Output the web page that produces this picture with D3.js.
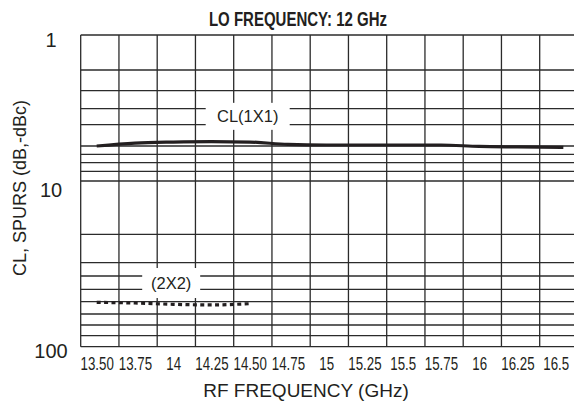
<!DOCTYPE html>
<html>
<head>
<meta charset="utf-8">
<script src="https://cdn.jsdelivr.net/npm/d3@7"></script>
<style>
body { margin:0; background:#fff; }
text { font-family:"Liberation Sans",Arial,Helvetica,sans-serif; fill:#231f20; }
</style>
</head>
<body>
<svg id="chart"></svg>
<script>

// x categories (GHz) and their printed labels
var freqs = [13.5,13.75,14,14.25,14.5,14.75,15,15.25,15.5,15.75,16,16.25,16.5];
var freqLabels = ["13.50","13.75","14","14.25","14.50","14.75","15","15.25","15.5","15.75","16","16.25","16.5"];

// CL(1X1) conversion loss, dB
var clFreq = [13.5,13.75,14,14.25,14.5,14.75,15,15.25,15.5,15.75,16,16.25,16.55];
var clVals = [6.0,5.85,5.8,5.78,5.8,5.92,5.95,5.95,5.95,5.95,6.05,6.1,6.15];

// (2X2) spur, dBc
var spurFreq = [13.5,13.75,14,14.25,14.5];
var spurVals = [60.5,61,62,62.5,61.5];

// y grid values and labelled ticks
var yGrid = [1,2,3,4,5,6,7,8,9,10,20,30,40,50,60,70,80,90,100];
var yLabels = [1,10,100];

var screen = {width:574, height:405};

var svg = d3.select("#chart")
    .attr("width", screen.width)
    .attr("height", screen.height);

var xScale = d3.scaleLinear()
    .domain([13.5,16.5])
    .range([96.7,555.7]);

// grid lines sit a little left of the printed labels
var gridShift = 16;

// the printed grid is not evenly logarithmic, so calibrate it piecewise
var yScale = d3.scaleLog()
    .domain(yGrid)
    .range([35,70,90.7,108.7,124.7,146,154.3,162.7,171.3,181,234.3,262.7,276,289.3,301.7,314,325,335.7,346.7]);

var left = xScale(13.5)-gridShift;
var right = xScale(16.75)-gridShift;

// squeeze text horizontally to imitate a condensed face
var condense = function(sel,k)
{
    sel.each(function(){
        var w = this.getComputedTextLength();
        d3.select(this)
            .attr("textLength",w*k)
            .attr("lengthAdjust","spacingAndGlyphs");
    });
}

var grid = svg.append("g");

grid.selectAll(".hline")
    .data(yGrid)
    .enter()
    .append("line")
    .attr("x1",left)
    .attr("x2",right)
    .attr("y1",function(d){return yScale(d)})
    .attr("y2",function(d){return yScale(d)})
    .style("stroke","#2b2b2b")
    .style("stroke-width",1.3);

grid.selectAll(".vline")
    .data(freqs.concat([16.75]))
    .enter()
    .append("line")
    .attr("x1",function(d){return xScale(d)-gridShift})
    .attr("x2",function(d){return xScale(d)-gridShift})
    .attr("y1",yScale(1))
    .attr("y2",yScale(100))
    .style("stroke","#2b2b2b")
    .style("stroke-width",1.3);

// CL(1X1) and (2X2) curves
var line = d3.line()
    .x(function(d){return xScale(d[0])})
    .y(function(d){return yScale(d[1])})
    .curve(d3.curveMonotoneX);

svg.append("path")
    .datum(d3.zip(clFreq,clVals))
    .attr("d",line)
    .style("fill","none")
    .style("stroke","#231f20")
    .style("stroke-width",3.2);

svg.append("path")
    .datum(d3.zip(spurFreq,spurVals))
    .attr("d",line)
    .style("fill","none")
    .style("stroke","#231f20")
    .style("stroke-width",3.2)
    .style("stroke-dasharray","4,3.4");

// curve labels in white boxes over the grid
var addTag = function(txt,cx,cy,w,h)
{
    svg.append("rect")
        .attr("x",cx-w/2)
        .attr("y",cy-h/2)
        .attr("width",w)
        .attr("height",h)
        .style("fill","#fff");
    svg.append("text")
        .text(txt)
        .attr("x",cx)
        .attr("y",cy)
        .attr("dy","0.35em")
        .attr("text-anchor","middle")
        .style("font-size","16.5px");
}
addTag("CL(1X1)",xScale(14.5)-2,yScale(4.45),84,27);
addTag("(2X2)",xScale(14)-2,yScale(45),58,30);

// axes
var xAxis = d3.axisBottom(xScale)
    .tickValues(freqs)
    .tickFormat(function(d,i){return freqLabels[i]})
    .tickSize(0)
    .tickPadding(11);

var gx = svg.append("g")
    .attr("transform","translate(0,"+yScale(100)+")")
    .call(xAxis);
gx.select(".domain").remove();
gx.selectAll("text")
    .attr("font-family",null)
    .attr("fill",null)
    .style("font-size","17.5px")
    .call(condense,0.76);

var yAxis = d3.axisLeft(yScale)
    .tickValues(yLabels)
    .tickFormat(d3.format("d"))
    .tickSize(0);

var gy = svg.append("g")
    .attr("transform","translate("+left+",0)")
    .call(yAxis);
gy.select(".domain").remove();
gy.selectAll("text")
    .attr("x",51-left)
    .attr("dy","0.55em")
    .attr("text-anchor","middle")
    .attr("font-family",null)
    .style("font-size","20px")
    .attr("fill",null);
gy.selectAll(".tick").filter(function(d){return d==10})
    .select("text").attr("dy","0.75em");

// titles
svg.append("text")
    .text("LO FREQUENCY: 12 GHz")
    .attr("x",298)
    .attr("y",26)
    .attr("text-anchor","middle")
    .style("font-size","20px")
    .style("font-weight","bold")
    .call(condense,0.75);

svg.append("text")
    .text("RF FREQUENCY (GHz)")
    .attr("x",306)
    .attr("y",397)
    .attr("text-anchor","middle")
    .style("font-size","19px");

svg.append("text")
    .text("CL, SPURS (dB,-dBc)")
    .attr("transform","translate(26,188) rotate(-90)")
    .attr("text-anchor","middle")
    .style("font-size","18px");

</script>
</body>
</html>
